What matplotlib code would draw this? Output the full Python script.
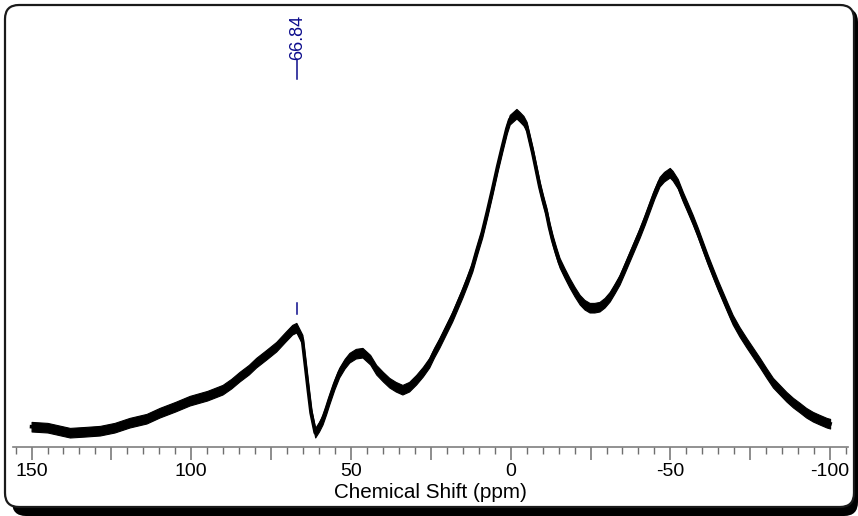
import matplotlib
matplotlib.use("Agg")
import matplotlib.pyplot as plt
from matplotlib.patches import FancyBboxPatch
from matplotlib.transforms import IdentityTransform
from matplotlib.ticker import MultipleLocator, FuncFormatter
import numpy as np

# Spectrum trace: chemical shift (ppm) and intensity (a.u.)
shift_ppm = [150.0, 145.0, 138.0, 133.0, 128.6, 124.0, 119.3, 114.0, 109.9, 105.0,
             100.5, 95.0, 90.2, 87.5, 84.9, 82.0, 79.7, 76.5, 73.4, 70.5,
             68.4, 67.1, 65.2, 64.1, 63.3, 62.5, 61.2, 60.0, 58.9, 57.8,
             56.8, 55.2, 53.7, 52.0, 50.5, 48.5, 46.4, 44.0, 42.1, 40.0,
             38.0, 36.0, 33.9, 31.8, 29.6, 27.5, 25.5, 24.0, 22.3, 20.3,
             18.3, 16.7, 15.1, 13.5, 12.0, 10.5, 8.9, 7.3, 5.7, 4.1,
             2.6, 1.2, 0.3, -1.8, -2.8, -4.0, -5.0, -6.9, -8.0, -9.1,
             -10.1, -11.2, -12.1, -13.1, -14.2, -15.3, -16.8, -18.4, -20.0, -21.6,
             -23.1, -24.7, -26.2, -27.8, -29.4, -31.0, -32.5, -34.1, -35.6, -37.2,
             -38.8, -40.4, -42.0, -43.5, -45.0, -46.6, -48.0, -49.8, -50.7, -52.3,
             -53.9, -55.4, -57.0, -58.6, -60.2, -61.7, -63.3, -64.8, -66.4, -68.0,
             -69.5, -71.6, -73.8, -75.9, -78.0, -80.0, -82.1, -84.2, -86.3, -88.4,
             -90.5, -92.5, -94.6, -96.7, -98.9, -100.0]
intensity = [20, 19, 14, 15, 16, 19, 24, 28, 34, 40,
             46, 51, 57, 63, 70, 77, 84, 92, 100, 110,
             117, 119, 107, 77, 55, 34, 14, 20, 27, 37,
             47, 62, 74, 83, 89, 93, 94, 87, 77, 70,
             64, 60, 57, 60, 67, 75, 84, 94, 104, 117,
             130, 142, 154, 167, 180, 197, 214, 235, 257, 280,
             300, 318, 327, 333, 330, 326, 320, 294, 277, 260,
             247, 234, 220, 207, 195, 184, 174, 164, 155, 147,
             142, 139, 139, 140, 144, 150, 158, 167, 178, 190,
             202, 214, 227, 240, 253, 265, 270, 274, 271, 263,
             250, 239, 227, 214, 200, 187, 174, 162, 150, 138,
             127, 115, 104, 94, 84, 74, 64, 57, 50, 44,
             39, 34, 30, 27, 24, 23]

# Peak pick
peak_ppm = 66.84
peak_label = "66.84"

major_ticks = [150, 100, 50, 0, -50, -100]
x_label = "Chemical Shift (ppm)"

plt.rcParams["font.family"] = ["Liberation Sans", "DejaVu Sans"]

W, H, DPI = 858, 516, 100
fig = plt.figure(figsize=(W / DPI, H / DPI), dpi=DPI)
fig.patch.set_facecolor("white")

# rounded panel with drop shadow (pixel coordinates)
shadow = FancyBboxPatch((12, 0), 846, 508,
                        boxstyle="round,pad=0,rounding_size=14",
                        transform=IdentityTransform(), facecolor="black",
                        edgecolor="none", zorder=0)
panel = FancyBboxPatch((5, 9), 849, 502,
                       boxstyle="round,pad=0,rounding_size=14",
                       transform=IdentityTransform(), facecolor="white",
                       edgecolor="#1a1a1a", linewidth=1.6, zorder=1)
fig.add_artist(shadow)
fig.add_artist(panel)

ax_left, ax_right = 12.7, 848.0
ax_bottom_px, ax_top_px = 446.7, 10.0
ax = fig.add_axes([ax_left / W, (H - ax_bottom_px) / H,
                   (ax_right - ax_left) / W, (ax_bottom_px - ax_top_px) / H])
ax.set_facecolor("none")
ax.set_zorder(2)

x = np.array(shift_ppm)
y = np.array(intensity, dtype=float)
noise_halfwidth = 4.8
ax.fill_between(x, y - noise_halfwidth, y + noise_halfwidth,
                color="black", linewidth=0.8, edgecolor="black")
ax.plot(x, y, color="black", linewidth=2.6, solid_joinstyle="round")

ax.set_xlim(155.9, -105.6)
ax.set_ylim(0, ax_bottom_px - ax_top_px)

for s in ("left", "right", "top"):
    ax.spines[s].set_visible(False)
ax.spines["bottom"].set_color("#7f7f7f")
ax.spines["bottom"].set_linewidth(1.2)
ax.set_yticks([])

ax.xaxis.set_major_locator(MultipleLocator(25))
ax.xaxis.set_minor_locator(MultipleLocator(5))
ax.xaxis.set_major_formatter(FuncFormatter(
    lambda v, p: f"{v:g}" if round(v) in major_ticks else ""))
ax.tick_params(axis="x", which="major", length=9, width=1.1,
               color="#6f6f6f", labelsize=14, pad=3, labelcolor="black")
ax.tick_params(axis="x", which="minor", length=5, width=1.0, color="#6f6f6f")
ax.set_xlabel(x_label, fontsize=14.9, labelpad=2)

# peak annotation
navy = "#0c0c8c"
ax.text(peak_ppm, 386.7, peak_label, rotation=90, ha="center", va="bottom",
        color=navy, fontsize=13)
ax.plot([peak_ppm, peak_ppm], [367.7, 386.7], color=navy, linewidth=1.1)
ax.plot([peak_ppm, peak_ppm], [132.7, 143.7], color=navy, linewidth=1.1)

fig.savefig("out.png", dpi=DPI)
